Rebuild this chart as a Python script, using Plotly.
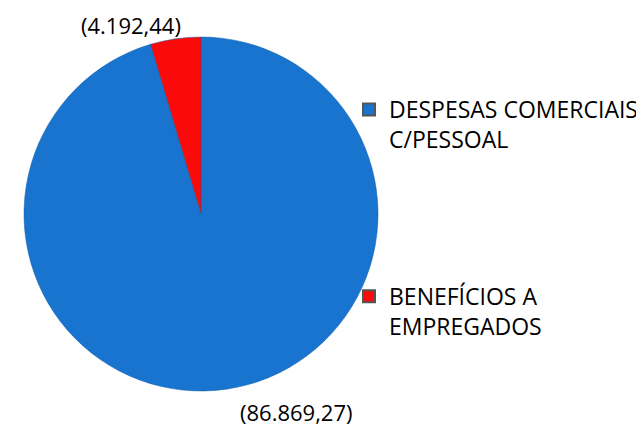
import plotly.graph_objects as go

# dados do gráfico
labels = ["DESPESAS COMERCIAIS C/PESSOAL", "BENEFÍCIOS A EMPREGADOS"]
legend_names = ["DESPESAS COMERCIAIS<br>C/PESSOAL", "BENEFÍCIOS A<br>EMPREGADOS"]
values = [86869.27, 4192.44]
colors = ["#1874CE", "#FA0A0A"]

# a página tem 8px de margem no body: desconta isso das posições
OFF = 8
W, H = 644 - OFF, 426 - OFF
FONT = "Open Sans"


def fx(px_):
    return (px_ - OFF) / W


def fy(py_):
    return 1 - (py_ - OFF) / H


def fmt_br(v):
    # formato brasileiro: 86.869,27
    s = f"{v:,.2f}"
    return "(" + s.replace(",", "X").replace(".", ",").replace("X", ".") + ")"


fig = go.Figure()

fig.add_trace(go.Pie(
    labels=labels,
    values=values,
    sort=False,
    direction="clockwise",
    rotation=0,
    textinfo="none",
    hoverinfo="label+value",
    marker=dict(colors=colors, line=dict(color="#0F5FA8", width=0.5)),
    showlegend=False,
    domain=dict(x=[fx(24), fx(378)], y=[fy(391), fy(37)]),
))

# entradas da legenda
for i, name in enumerate(legend_names):
    fig.add_trace(go.Scatter(
        x=[None], y=[None], mode="markers",
        marker=dict(symbol="square", size=11, color=colors[i],
                    line=dict(color="#555555", width=0.5)),
        name=name, legendgroup=str(i), showlegend=True,
    ))

# rótulos de valores
label_pos = [(296, 412), (131, 25)]
for v, (px_, py_) in zip(values, label_pos):
    fig.add_annotation(
        x=fx(px_), y=fy(py_), xref="paper", yref="paper",
        text=fmt_br(v), showarrow=False,
        font=dict(family=FONT, size=22, color="#000000"),
        xanchor="center", yanchor="middle",
    )

fig.update_layout(
    width=W, height=H,
    margin=dict(l=0, r=0, t=0, b=0),
    paper_bgcolor="white",
    plot_bgcolor="white",
    font=dict(family=FONT, size=23, color="#000000"),
    xaxis=dict(visible=False),
    yaxis=dict(visible=False),
    legend=dict(
        x=fx(349), y=fy(88), xanchor="left", yanchor="top",
        traceorder="grouped", tracegroupgap=124, valign="top",
        bgcolor="rgba(0,0,0,0)", itemsizing="constant",
        font=dict(family=FONT, size=23),
    ),
)

fig.write_html("out.html")
